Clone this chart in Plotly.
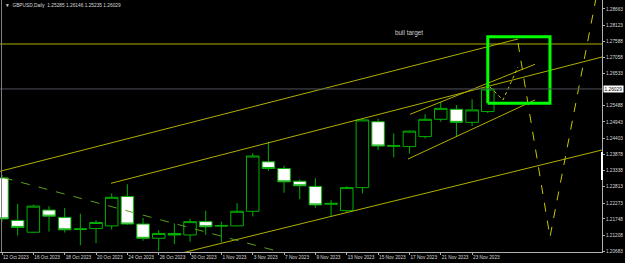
import plotly.graph_objects as go

# ---------------- data ----------------
dates = ["12 Oct 2023", "13 Oct 2023", "16 Oct 2023", "17 Oct 2023", "18 Oct 2023",
         "19 Oct 2023", "20 Oct 2023", "23 Oct 2023", "24 Oct 2023", "25 Oct 2023",
         "26 Oct 2023", "27 Oct 2023", "30 Oct 2023", "31 Oct 2023", "1 Nov 2023",
         "2 Nov 2023", "3 Nov 2023", "6 Nov 2023", "7 Nov 2023", "8 Nov 2023",
         "9 Nov 2023", "10 Nov 2023", "13 Nov 2023", "14 Nov 2023", "15 Nov 2023",
         "16 Nov 2023", "17 Nov 2023", "20 Nov 2023", "21 Nov 2023", "22 Nov 2023",
         "23 Nov 2023", "24 Nov 2023"]
opens = [1.2310, 1.2170, 1.2131, 1.2204, 1.2180, 1.2140, 1.2143, 1.2152, 1.2249, 1.2158,
         1.2111, 1.2127, 1.2122, 1.2166, 1.2151, 1.2152, 1.2200, 1.2363, 1.2341, 1.2299,
         1.2282, 1.2223, 1.2202, 1.2278, 1.2495, 1.2414, 1.2413, 1.2446, 1.2503, 1.2536,
         1.2493, 1.25285]
highs = [1.2320, 1.2224, 1.2222, 1.2217, 1.2211, 1.2192, 1.2171, 1.2259, 1.2289, 1.2178,
         1.2138, 1.2160, 1.2175, 1.2202, 1.2166, 1.2227, 1.2391, 1.2429, 1.2350, 1.2305,
         1.2309, 1.2237, 1.2283, 1.2505, 1.2505, 1.2457, 1.2466, 1.2520, 1.2561, 1.2550,
         1.2569, 1.26146]
lows = [1.2165, 1.2120, 1.2128, 1.2133, 1.2130, 1.2088, 1.2095, 1.2140, 1.2155, 1.2103,
        1.2070, 1.2092, 1.2100, 1.2122, 1.2098, 1.2150, 1.2183, 1.2333, 1.2261, 1.2240,
        1.2212, 1.2182, 1.2198, 1.2259, 1.2402, 1.2378, 1.2390, 1.2440, 1.2495, 1.2446,
        1.2481, 1.25235]
closes = [1.2175, 1.2147, 1.2217, 1.2184, 1.2139, 1.2142, 1.2163, 1.2246, 1.2158, 1.2111,
          1.2127, 1.2122, 1.2166, 1.2149, 1.2153, 1.2200, 1.2382, 1.2341, 1.2297, 1.2284,
          1.2221, 1.2226, 1.2278, 1.2501, 1.2415, 1.2416, 1.2464, 1.2503, 1.2539, 1.2493,
          1.2534, 1.26029]

tick_idx = list(range(0, 32, 2))
tick_labels = [dates[i] for i in tick_idx]
price_ticks = [1.28663, 1.28123, 1.27588, 1.27058, 1.26533, 1.25488, 1.24943, 1.24403,
               1.23878, 1.23338, 1.22813, 1.22273, 1.21748, 1.21208, 1.20683]

# drawn objects (bar index, price)
bull_target_price = 1.27510
bull_target_label_pos = (25.97, 1.27872)
line_a_x = [-1.0, 32.93];   line_a_y = [1.23202, 1.27675]
line_b_x = [6.956, 40.0];   line_b_y = [1.22922, 1.27309]
line_c_x = [10.0, 40.0];    line_c_y = [1.20440, 1.24235]
wedge_hi_x = [26.04, 34.01]; wedge_hi_y = [1.25194, 1.26841]
wedge_lo_x = [25.91, 34.01]; wedge_lo_y = [1.23722, 1.25665]
green_dash_x = [-1.0, 18.5]; green_dash_y = [1.23260, 1.20557]
proj_small_x = [31.14, 31.97, 32.93]; proj_small_y = [1.26094, 1.25665, 1.26753]
proj_big_x = [32.93, 34.97, 38.29];   proj_big_y = [1.27543, 1.21153, 1.30040]
box_x = [31.0, 34.97]; box_y = [1.25557, 1.27751]
side_marker_y = [1.2303, 1.2395]

x_range = [-0.128, 38.29]
y_range = [1.20659, 1.28959]

# ---------------- figure ----------------
fig = go.Figure()
idx = list(range(len(dates)))

OLIVE = "#b0b000"
YDASH = "#c8c800"

def seg(x, y, color, dash="solid", width=1):
    fig.add_trace(go.Scatter(x=x, y=y, mode="lines",
                             line=dict(color=color, width=width, dash=dash),
                             hoverinfo="skip", showlegend=False))

seg([-1, 40], [bull_target_price, bull_target_price], OLIVE)
seg(line_a_x, line_a_y, OLIVE)
seg(line_b_x, line_b_y, OLIVE)
seg(line_c_x, line_c_y, OLIVE)
seg(wedge_hi_x, wedge_hi_y, OLIVE)
seg(wedge_lo_x, wedge_lo_y, OLIVE)
seg(green_dash_x, green_dash_y, "#5a9e1a", dash="dash")

fig.add_trace(go.Candlestick(
    x=idx, open=opens, high=highs, low=lows, close=closes,
    increasing=dict(line=dict(color="#00b000", width=1), fillcolor="#000000"),
    decreasing=dict(line=dict(color="#00b000", width=1), fillcolor="#ffffff"),
    whiskerwidth=0, hoverinfo="skip", showlegend=False))

seg(proj_small_x, proj_small_y, YDASH, dash="dot")
seg(proj_big_x, proj_big_y, YDASH, dash="dash")
seg([box_x[0], box_x[1], box_x[1], box_x[0], box_x[0]],
    [box_y[0], box_y[0], box_y[1], box_y[1], box_y[0]], "#00ff00", width=3)

# current price line
fig.add_shape(type="line", xref="paper", x0=0, x1=1, yref="y",
              y0=closes[-1], y1=closes[-1], line=dict(color="#4e525a", width=1))
# left frame line
fig.add_shape(type="line", xref="paper", x0=0.0025, x1=0.0025, yref="paper",
              y0=0, y1=1, line=dict(color="#808080", width=1))
# side marker on price axis
fig.add_shape(type="line", xref="paper", x0=1.0, x1=1.0, yref="y",
              y0=side_marker_y[0], y1=side_marker_y[1], line=dict(color="#ffffff", width=2))

fig.add_annotation(x=bull_target_label_pos[0], y=bull_target_label_pos[1], xref="x", yref="y",
                   text="bull target", showarrow=False,
                   font=dict(family="Liberation Sans, Arial", size=6.4, color="#d0d0d0"))

fig.add_annotation(xref="paper", yref="y", x=1, y=closes[-1], xanchor="left", xshift=1,
                   text=f"{closes[-1]:.5f}", showarrow=False, bgcolor="#ffffff",
                   borderpad=0.5,
                   font=dict(family="Liberation Sans, Arial", size=4.8, color="#000000"))

title = (f"\u25bc  GBPUSD,Daily  {opens[-1]:.5f} {highs[-1]:.5f} "
         f"{lows[-1]:.5f} {closes[-1]:.5f}")
fig.add_annotation(xref="paper", yref="paper", x=3 / 602, y=1 - 5 / 252,
                   xanchor="left", yanchor="middle", text=title, showarrow=False,
                   font=dict(family="Liberation Sans, Arial", size=4.8, color="#d8d8d8"))

axis_font = dict(family="Liberation Sans, Arial", size=4.7, color="#d8d8d8")
fig.update_layout(
    width=625, height=263,
    margin=dict(l=0, r=23, t=0, b=11),
    paper_bgcolor="#000000", plot_bgcolor="#000000",
    showlegend=False,
    boxgap=0.2, boxgroupgap=0,
    xaxis=dict(range=x_range, tickmode="array", tickvals=tick_idx, ticktext=tick_labels,
               showgrid=False, zeroline=False, showline=True, linecolor="#b0b0b0",
               linewidth=1, ticks="outside", ticklen=2, tickcolor="#b0b0b0",
               tickangle=0, ticklabelposition="outside right", tickfont=axis_font,
               rangeslider=dict(visible=False), fixedrange=True),
    yaxis=dict(range=y_range, side="right", tickmode="array", tickvals=price_ticks,
               ticktext=[f"{v:.5f}" for v in price_ticks],
               showgrid=False, zeroline=False, showline=True, linecolor="#b0b0b0",
               linewidth=1, ticks="outside", ticklen=2, tickcolor="#b0b0b0",
               tickfont=axis_font, fixedrange=True),
)

fig.write_html("out.html", config={"displayModeBar": False})
